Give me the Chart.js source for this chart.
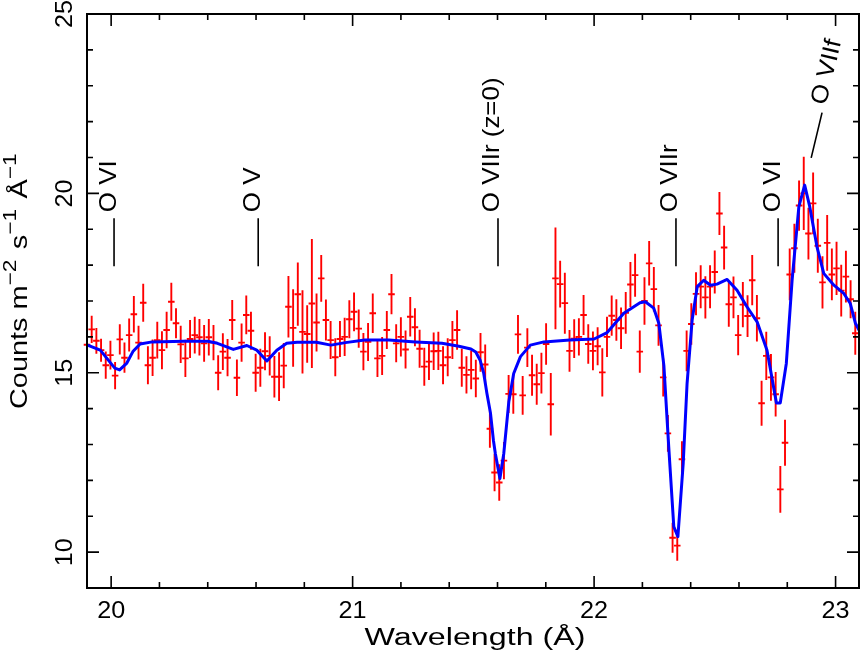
<!DOCTYPE html>
<html><head><meta charset="utf-8">
<script src="https://cdn.jsdelivr.net/npm/chart.js@4/dist/chart.umd.min.js"></script>
<style>html,body{margin:0;padding:0;background:#fff;}#wrap{position:relative;width:862px;height:654px;}</style>
</head><body><div id="wrap"><canvas id="c"></canvas></div>
<script>
// ---- data (binned spectrum) ----
const binStart = 19.90;      // first bin centre (Angstrom)
const binWidth = 0.0194;     // bin width (Angstrom)
const counts = [
15.78,16.21,15.89,15.63,15.21,15.49,14.92,15.93,15.42,16.05,
16.63,15.84,16.95,15.21,15.42,15.91,15.63,16.19,16.98,16.38,
15.79,15.40,15.94,16.05,15.99,15.82,15.99,15.84,15.00,15.59,
15.42,16.47,14.86,15.84,16.61,16.17,15.00,15.14,15.60,15.47,
14.89,14.89,15.20,16.84,16.25,17.19,16.14,16.08,16.93,16.40,
17.63,16.47,15.91,15.43,15.94,16.00,16.49,16.70,16.23,15.59,
15.86,16.66,15.40,15.47,16.19,17.19,15.82,16.00,15.65,16.56,
16.27,15.67,15.17,15.31,15.60,15.61,15.21,15.43,15.91,16.19,
15.14,14.94,15.08,14.84,15.57,15.23,13.44,12.22,11.94,12.55,
14.41,14.40,16.07,14.37,15.70,14.93,14.68,14.99,15.80,14.12,
17.63,17.47,16.94,15.61,15.95,16.00,16.61,15.80,15.61,15.74,
15.01,16.00,16.59,16.47,16.24,16.67,17.46,17.72,15.59,17.00,
18.05,17.33,16.32,14.87,13.31,10.40,10.18,12.59,15.61,16.36,
17.20,17.40,17.10,17.40,17.81,19.44,18.49,16.91,17.10,16.05,
16.90,16.58,17.58,16.52,14.15,15.47,14.87,14.40,11.75,13.05,
17.74,18.47,19.66,20.00,18.88,19.72,18.54,17.52,18.62,17.74,
17.91,17.29,17.68,17.05,16.10];
const errors = [
0.40,0.38,0.36,0.32,0.38,0.40,0.38,0.42,0.42,0.46,
0.51,0.47,0.53,0.53,0.51,0.51,0.53,0.51,0.53,0.42,
0.52,0.52,0.53,0.51,0.51,0.51,0.51,0.49,0.49,0.51,
0.52,0.56,0.51,0.53,0.54,0.53,0.53,0.53,0.53,0.55,
0.58,0.68,0.63,0.86,1.08,0.88,1.16,0.80,1.80,0.81,
0.65,0.57,0.53,0.53,0.50,0.53,0.53,0.54,0.53,0.52,
0.53,0.55,0.52,0.53,0.53,0.56,0.53,0.55,0.53,0.55,
0.53,0.53,0.53,0.51,0.52,0.53,0.53,0.53,0.53,0.55,
0.53,0.52,0.54,0.52,0.54,0.56,0.53,0.52,0.51,0.52,
0.53,0.54,0.54,0.54,0.54,0.57,0.57,0.57,0.58,0.87,
1.42,0.65,0.85,0.58,0.54,0.52,0.56,0.55,0.54,0.53,
0.67,0.56,0.56,0.58,0.58,0.58,0.63,0.60,0.59,0.66,
0.62,0.62,0.57,0.53,0.51,0.42,0.42,0.50,0.57,0.58,
0.60,0.60,0.59,0.60,0.60,0.60,0.61,0.63,0.58,0.56,
0.63,0.58,0.70,0.65,0.63,0.67,0.65,0.62,0.65,0.64,
0.72,0.68,0.70,1.02,0.72,0.86,0.75,0.73,0.78,0.72,
0.74,0.72,0.72,0.53,0.60];
// ---- best-fit model curve ----
const modelWave = [19.90,19.955,20.015,20.035,20.065,20.09,20.12,20.17,20.30,20.40,
20.44,20.506,20.562,20.603,20.645,20.686,20.727,20.77,20.85,20.91,
20.97,21.05,21.15,21.26,21.37,21.44,21.49,21.51,21.528,21.543,
21.556,21.571,21.583,21.591,21.610,21.626,21.647,21.667,21.695,21.736,
21.792,21.90,22.00,22.054,22.123,22.19,22.212,22.247,22.268,22.289,
22.309,22.330,22.347,22.369,22.385,22.406,22.427,22.454,22.482,22.509,
22.551,22.592,22.633,22.675,22.716,22.755,22.771,22.796,22.820,22.848,
22.872,22.893,22.923,22.951,22.993,23.034,23.061,23.082,23.097];
const modelCounts = [15.78,15.63,15.13,15.08,15.27,15.59,15.80,15.86,15.88,15.88,
15.82,15.65,15.76,15.63,15.33,15.63,15.82,15.85,15.85,15.77,
15.84,15.91,15.91,15.86,15.82,15.74,15.66,15.58,15.35,14.98,
14.43,13.87,13.12,12.75,12.05,12.75,14.20,14.98,15.45,15.77,
15.86,15.91,15.94,16.12,16.66,16.95,16.98,16.80,16.38,15.20,
12.94,10.71,10.43,12.47,14.70,16.47,17.40,17.58,17.44,17.47,
17.60,17.30,16.84,16.42,15.63,14.16,14.16,15.26,17.58,19.63,
20.23,19.63,18.51,17.77,17.44,17.21,16.93,16.38,16.19];
// ---- line identifications ----
const lineNames = ['O VI','O V','O VIIr (z=0)','O VIIr','O VI'];
const lineWaves = [20.012,20.609,21.602,22.339,22.762];
const markLow = 17.97, markHigh = 19.31;
const slantName = 'O VIIf';
const slantFrom = [22.899,20.99], slantTo = [22.944,22.25];
// ---- axes ----
const xRange = [19.9, 23.097], yRange = [9, 25];
const xMajor = [20,21,22,23], xMinorStep = 0.2;
const yMajor = [10,15,20,25], yMinorStep = 1;
const xTitle = 'Wavelength (Å)';

const wave = counts.map((_, i) => binStart + i * binWidth);
const FONT = '"Liberation Sans", Arial, sans-serif';

const errPlugin = {
  id: 'errbars',
  beforeDatasetsDraw(chart) {
    const {ctx, scales:{x, y}} = chart;
    ctx.save();
    ctx.strokeStyle = '#ff0000';
    ctx.lineWidth = 1.9;
    ctx.beginPath();
    for (let i = 0; i < counts.length; i++) {
      const px = x.getPixelForValue(wave[i]);
      const py = y.getPixelForValue(counts[i]);
      ctx.moveTo(px, y.getPixelForValue(counts[i] - errors[i]));
      ctx.lineTo(px, y.getPixelForValue(counts[i] + errors[i]));
      ctx.moveTo(x.getPixelForValue(wave[i] - binWidth * 0.7), py);
      ctx.lineTo(x.getPixelForValue(wave[i] + binWidth * 0.7), py);
    }
    ctx.stroke();
    ctx.restore();
  }
};

function rotText(ctx, str, px, py, ang, size, align, stretch) {
  ctx.save();
  ctx.translate(px, py);
  ctx.rotate(ang);
  ctx.scale(stretch || 1, 1);
  ctx.font = size + 'px ' + FONT;
  ctx.textAlign = align || 'left';
  ctx.textBaseline = 'alphabetic';
  ctx.fillText(str, 0, 0);
  ctx.restore();
}

const framePlugin = {
  id: 'frame',
  afterDraw(chart) {
    const {ctx, chartArea:a, scales:{x, y}} = chart;
    ctx.save();
    ctx.strokeStyle = '#000';
    ctx.fillStyle = '#000';
    ctx.lineWidth = 2;
    ctx.strokeRect(a.left, a.top, a.right - a.left, a.bottom - a.top);
    ctx.lineWidth = 1.6;
    ctx.beginPath();
    for (let k = 0; ; k++) {
      const v = Math.round((20 + k * xMinorStep) * 10) / 10;
      if (v > xRange[1]) break;
      const px = x.getPixelForValue(v);
      const len = xMajor.includes(v) ? 12 : 6;
      ctx.moveTo(px, a.bottom); ctx.lineTo(px, a.bottom - len);
      ctx.moveTo(px, a.top); ctx.lineTo(px, a.top + len);
    }
    for (let v = yRange[0] + 1; v < yRange[1]; v += yMinorStep) {
      const py = y.getPixelForValue(v);
      const len = yMajor.includes(v) ? 12 : 6;
      ctx.moveTo(a.left, py); ctx.lineTo(a.left + len, py);
      ctx.moveTo(a.right, py); ctx.lineTo(a.right - len, py);
    }
    lineWaves.forEach(w => {
      const px = x.getPixelForValue(w);
      ctx.moveTo(px, y.getPixelForValue(markLow));
      ctx.lineTo(px, y.getPixelForValue(markHigh));
    });
    const s0 = [x.getPixelForValue(slantFrom[0]), y.getPixelForValue(slantFrom[1])];
    const s1 = [x.getPixelForValue(slantTo[0]), y.getPixelForValue(slantTo[1])];
    ctx.moveTo(s0[0], s0[1]); ctx.lineTo(s1[0], s1[1]);
    ctx.stroke();

    xMajor.forEach(v => rotText(ctx, String(v), x.getPixelForValue(v), 618, 0, 24, 'center', 1.05));
    yMajor.forEach(v => rotText(ctx, String(v), 72, y.getPixelForValue(v), -Math.PI/2, 24, 'center', 1.05));

    lineWaves.forEach((w, i) => {
      const px = x.getPixelForValue(w);
      rotText(ctx, lineNames[i], px + 1.5, y.getPixelForValue(markHigh) - 6, -Math.PI/2, 24, 'left', 1.08);
    });
    const ang = Math.atan2(s1[1] - s0[1], s1[0] - s0[0]);
    const d = 7;
    rotText(ctx, slantName, s1[0] + Math.cos(ang) * d + 2, s1[1] + Math.sin(ang) * d, ang, 24, 'left', 1.08);

    ctx.save();
    ctx.font = '23px ' + FONT;
    const tw = ctx.measureText(xTitle).width;
    ctx.restore();
    rotText(ctx, xTitle, 475 - 221/2, 645, 0, 23, 'left', 221 / tw);

    // y title with superscripts, stretched to the reference length
    const parts = [['Counts m', 0], ['−2', 1], [' s', 0], ['−1', 1], [' Å', 0], ['−1', 1]];
    let total = 0;
    parts.forEach(([t, sup]) => { ctx.font = (sup ? 18 : 23) + 'px ' + FONT; total += ctx.measureText(t).width + (sup ? 2 : 0); });
    ctx.save();
    ctx.translate(27, 409);
    ctx.rotate(-Math.PI/2);
    ctx.scale(258 / total, 1);
    ctx.textAlign = 'left'; ctx.textBaseline = 'alphabetic';
    let cx = 0;
    parts.forEach(([t, sup]) => {
      ctx.font = (sup ? 18 : 23) + 'px ' + FONT;
      ctx.fillText(t, cx, sup ? -11 : 0);
      cx += ctx.measureText(t).width + (sup ? 2 : 0);
    });
    ctx.restore();
    ctx.restore();
  }
};

new Chart(document.getElementById('c'), {
  type: 'scatter',
  data: {
    datasets: [
      { label: 'data', data: counts.map((c, i) => ({x: wave[i], y: c})), pointRadius: 0, showLine: false },
      { label: 'model', type: 'line', data: modelWave.map((w, i) => ({x: w, y: modelCounts[i]})),
        borderColor: '#0000ff', borderWidth: 3, pointRadius: 0, tension: 0, fill: false,
        borderJoinStyle: 'round', borderCapStyle: 'round' }
    ]
  },
  options: {
    responsive: true, maintainAspectRatio: false, animation: false,
    layout: { padding: { left: 87, top: 14, right: 3, bottom: 66 } },
    scales: {
      x: { type: 'linear', min: xRange[0], max: xRange[1], display: false },
      y: { type: 'linear', min: yRange[0], max: yRange[1], display: false }
    },
    plugins: { legend: { display: false }, tooltip: { enabled: false } }
  },
  plugins: [errPlugin, framePlugin]
});
</script></body></html>
